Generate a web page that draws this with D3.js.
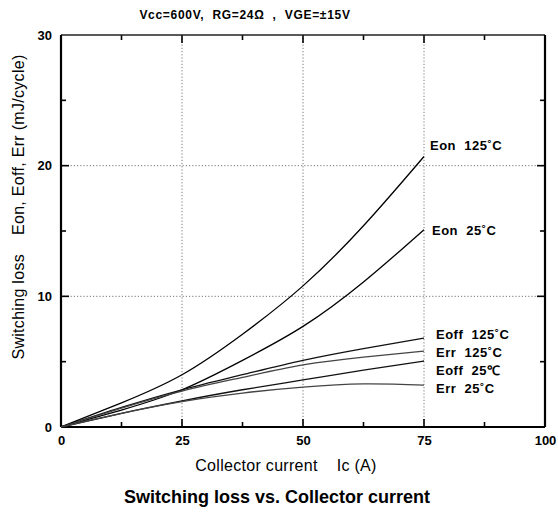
<!DOCTYPE html>
<html><head><meta charset="utf-8">
<script src="https://cdn.jsdelivr.net/npm/d3@7"></script>
<style>
html,body{margin:0;padding:0;background:#fff;}
svg{display:block;}
text{white-space:pre;}
</style></head>
<body>
<svg id="chart" width="558" height="512"></svg>
<script>
// ---- data ----
const current = [0, 12.5, 25, 37.5, 50, 62.5, 75];
const eon125  = [0, 1.85, 4.0, 7.1, 10.8, 15.4, 20.7];
const eon25   = [0, 1.3, 2.85, 5.1, 7.7, 11.1, 15.1];
const eoff125 = [0, 1.5, 2.85, 4.0, 5.1, 6.0, 6.8];
const err125  = [0, 1.45, 2.75, 3.8, 4.75, 5.35, 5.8];
const eoff25  = [0, 1.05, 2.0, 2.85, 3.6, 4.35, 5.05];
const err25   = [0, 1.05, 1.95, 2.6, 3.05, 3.3, 3.2];
const seriesNames = ["Eon  125˚C", "Eon  25˚C", "Eoff  125˚C", "Err  125˚C", "Eoff  25℃", "Err  25˚C"];
const labelValues = [21.2, 14.7, 6.73, 5.36, 3.98, 2.6];
const xTicks = [0, 25, 50, 75, 100];
const yTicks = [0, 10, 20, 30];
const xMinor = [12.5, 37.5, 62.5, 87.5];
const yMinor = [5, 15, 25];
const conditionText = "Vcc=600V,  RG=24Ω  ,  VGE=±15V";
const xTitle = "Collector current    Ic (A)";
const yTitle = "Switching loss    Eon, Eoff, Err (mJ/cycle)";
const chartTitle = "Switching loss vs. Collector current";

const series = [eon125, eon25, eoff125, err125, eoff25, err25];
const labelX = [430, 432, 436, 436, 436, 436];
const strokes = ["#000", "#000", "#111", "#444", "#111", "#444"];

const svg = d3.select("#chart");
const L = 61, R = 545, T = 35, B = 427;
const x = d3.scaleLinear().domain([0, 100]).range([L, R]);
const y = d3.scaleLinear().domain([0, 30]).range([B, T]);

// grid
const grid = svg.append("g").attr("stroke", "#777").attr("stroke-width", 1).attr("stroke-dasharray", "1.2,2");
grid.selectAll("line.v").data([25, 50, 75]).join("line")
  .attr("x1", d => x(d)).attr("x2", d => x(d)).attr("y1", T).attr("y2", B);
grid.selectAll("line.h").data([10, 20]).join("line")
  .attr("x1", L).attr("x2", R).attr("y1", d => y(d)).attr("y2", d => y(d));

// axes
const fontTick = "bold 13px 'Liberation Sans', Arial, sans-serif";
const bottom = svg.append("g").attr("transform", `translate(0,${B})`)
  .call(d3.axisBottom(x).tickValues(xTicks).tickSize(0).tickPadding(9).tickFormat(d3.format("d")));
bottom.select(".domain").remove();
bottom.selectAll("text").style("font", fontTick).attr("fill", "#000");

const left = svg.append("g").attr("transform", `translate(${L},0)`)
  .call(d3.axisLeft(y).tickValues(yTicks).tickSize(0).tickPadding(9).tickFormat(d3.format("d")));
left.select(".domain").remove();
left.selectAll("text").style("font", fontTick).attr("fill", "#000");

// inward tick marks
const tk = svg.append("g").attr("stroke", "#000").attr("stroke-width", 1.6);
tk.selectAll("line.bM").data([25, 50, 75]).join("line")
  .attr("x1", d => x(d)).attr("x2", d => x(d)).attr("y1", B).attr("y2", B - 8);
tk.selectAll("line.bm").data(xMinor).join("line")
  .attr("x1", d => x(d)).attr("x2", d => x(d)).attr("y1", B).attr("y2", B - 5);
tk.selectAll("line.tM").data([25, 50, 75]).join("line")
  .attr("x1", d => x(d)).attr("x2", d => x(d)).attr("y1", T).attr("y2", T + 8);
tk.selectAll("line.tm").data(xMinor).join("line")
  .attr("x1", d => x(d)).attr("x2", d => x(d)).attr("y1", T).attr("y2", T + 5);
tk.selectAll("line.lM").data([10, 20]).join("line")
  .attr("x1", L).attr("x2", L + 8).attr("y1", d => y(d)).attr("y2", d => y(d));
tk.selectAll("line.lm").data(yMinor).join("line")
  .attr("x1", L).attr("x2", L + 5).attr("y1", d => y(d)).attr("y2", d => y(d));
tk.selectAll("line.rM").data([10, 20]).join("line")
  .attr("x1", R).attr("x2", R - 8).attr("y1", d => y(d)).attr("y2", d => y(d));
tk.selectAll("line.rm").data(yMinor).join("line")
  .attr("x1", R).attr("x2", R - 5).attr("y1", d => y(d)).attr("y2", d => y(d));

// frame
svg.append("line").attr("x1", L).attr("x2", R).attr("y1", T).attr("y2", T).attr("stroke", "#222").attr("stroke-width", 1.3);
svg.append("line").attr("x1", L).attr("x2", R).attr("y1", B).attr("y2", B).attr("stroke", "#000").attr("stroke-width", 2);
svg.append("line").attr("x1", L).attr("x2", L).attr("y1", T).attr("y2", B).attr("stroke", "#000").attr("stroke-width", 2.2);
svg.append("line").attr("x1", R).attr("x2", R).attr("y1", T).attr("y2", B).attr("stroke", "#000").attr("stroke-width", 2.2);

// curves
const line = d3.line().x((d, i) => x(current[i])).y(d => y(d)).curve(d3.curveNatural);
svg.append("g").selectAll("path").data(series).join("path")
  .attr("d", d => line(d)).attr("fill", "none")
  .attr("stroke", (d, i) => strokes[i]).attr("stroke-width", 1.3);

// series labels
svg.append("g").selectAll("text").data(seriesNames).join("text")
  .attr("x", (d, i) => labelX[i]).attr("y", (d, i) => y(labelValues[i]))
  .style("font", "bold 13px 'Liberation Sans', Arial, sans-serif")
  .style("letter-spacing", "0.5px")
  .attr("fill", "#000").text(d => d);

// condition text
svg.append("text").attr("x", 245).attr("y", 19).attr("text-anchor", "middle")
  .style("font", "bold 12px 'Liberation Sans', Arial, sans-serif").style("letter-spacing", "0.7px")
  .attr("fill", "#000").text(conditionText);

// axis titles
svg.append("text").attr("x", 286).attr("y", 471).attr("text-anchor", "middle")
  .style("font", "16px 'Liberation Sans', Arial, sans-serif").style("letter-spacing", "0.3px")
  .attr("fill", "#000").text(xTitle);
svg.append("text").attr("transform", "translate(24,207) rotate(-90)").attr("text-anchor", "middle")
  .style("font", "16px 'Liberation Sans', Arial, sans-serif").style("letter-spacing", "0.3px")
  .attr("fill", "#000").text(yTitle);

// chart title
svg.append("text").attr("x", 277).attr("y", 503).attr("text-anchor", "middle")
  .style("font", "bold 18px 'Liberation Sans', Arial, sans-serif")
  .attr("fill", "#000").text(chartTitle);
</script>
</body></html>
